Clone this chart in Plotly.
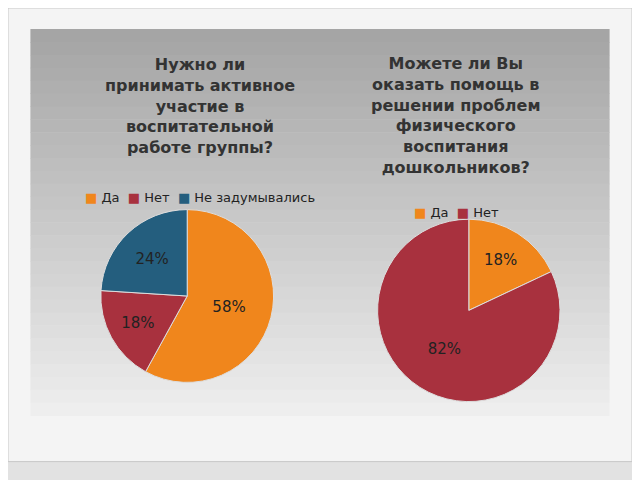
import plotly.graph_objects as go

left_labels = ["Да", "Нет", "Не задумывались"]
left_values = [58, 18, 24]
right_labels = ["Да", "Нет"]
right_values = [18, 82]
colors = {"Да": "#F0861C", "Нет": "#A8313E", "Не задумывались": "#245E7E"}

fig = go.Figure()
fig.add_trace(go.Pie(labels=left_labels, values=left_values, sort=False, direction="clockwise",
                     rotation=0, marker=dict(colors=[colors[l] for l in left_labels], line=dict(color="#ddd", width=1)),
                     texttemplate="%{value}%", textposition="inside",
                     textfont=dict(size=15, color="#222", family="DejaVu Sans"),
                     domain=dict(x=[0.14, 0.42], y=[0.22, 0.58]), showlegend=False, hoverinfo="skip"))
fig.add_trace(go.Pie(labels=right_labels, values=right_values, sort=False, direction="clockwise",
                     rotation=0, marker=dict(colors=[colors[l] for l in right_labels], line=dict(color="#ddd", width=1)),
                     texttemplate="%{value}%", textposition="inside",
                     textfont=dict(size=15, color="#222", family="DejaVu Sans"),
                     domain=dict(x=[0.56, 0.88], y=[0.18, 0.56]), showlegend=False, hoverinfo="skip"))

shapes = [dict(type="rect", xref="paper", yref="paper", x0=0.0, x1=0.975, y0=0.055, y1=1.0,
               fillcolor="#F4F4F4", line=dict(color="#C8C8C8", width=1), layer="below")]
n = 30
top, bot = 0.955, 0.15
for i in range(n):
    t = i / (n - 1)
    c = int(165 + (238 - 165) * t)
    y1 = top - (top - bot) * i / n
    y0 = top - (top - bot) * (i + 1) / n
    shapes.append(dict(type="rect", xref="paper", yref="paper", x0=0.035, x1=0.94, y0=y0, y1=y1 + 0.001,
                       fillcolor=f"rgb({c},{c},{c})", line=dict(width=0), layer="below"))

def bold(s):
    return "<br>".join("<b>" + p + "</b>" for p in s.split("<br>"))

ann = [
    dict(x=0.30, y=0.795, text=bold("Нужно ли<br>принимать активное<br>участие в<br>воспитательной<br>работе группы?"),
         font=dict(size=16, color="#333", family="DejaVu Sans")),
    dict(x=0.70, y=0.775, text=bold("Можете ли Вы<br>оказать помощь в<br>решении проблем<br>физического<br>воспитания<br>дошкольников?"),
         font=dict(size=16, color="#333", family="DejaVu Sans")),
    dict(x=0.30, y=0.605, text="<span style='color:#F0861C'>■</span> Да  <span style='color:#A8313E'>■</span> Нет  <span style='color:#245E7E'>■</span> Не задумывались",
         font=dict(size=13, color="#222", family="DejaVu Sans")),
    dict(x=0.70, y=0.575, text="<span style='color:#F0861C'>■</span> Да  <span style='color:#A8313E'>■</span> Нет",
         font=dict(size=13, color="#222", family="DejaVu Sans")),
]
for a in ann:
    a.update(showarrow=False, xref="paper", yref="paper", xanchor="center", yanchor="middle")

fig.update_layout(width=640, height=480, margin=dict(l=0, r=0, t=0, b=0),
                  paper_bgcolor="#E2E2E2", plot_bgcolor="#E2E2E2", shapes=shapes, annotations=ann)
fig.write_html("out.html")
